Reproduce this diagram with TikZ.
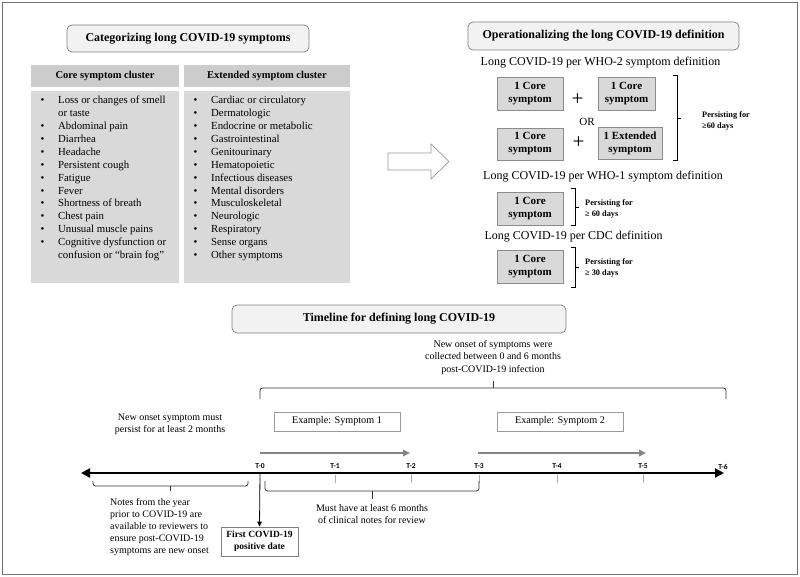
\documentclass[tikz,border=0pt]{standalone}
\usepackage{fontspec}
\setmainfont{Liberation Serif}
\newfontfamily\tickfont{Carlito}
\usetikzlibrary{arrows.meta}
\definecolor{tbfill}{HTML}{F2F2F2}
\definecolor{tbdraw}{HTML}{7F7F7F}
\definecolor{hdrfill}{HTML}{CCCCCC}
\definecolor{bodyfill}{HTML}{D9D9D9}
\definecolor{defdraw}{HTML}{8C8C8C}
\definecolor{tickblue}{HTML}{8DB3E2}
\definecolor{garrow}{HTML}{858585}
\begin{document}
\begin{tikzpicture}[x=1pt,y=-1pt,
  titlebox/.style={draw=tbdraw,fill=tbfill,rounded corners=5pt,line width=0.7pt,inner sep=0pt,font=\fontsize{12}{14}\selectfont\bfseries},
  hdrbox/.style={fill=hdrfill,inner sep=0pt,minimum height=22pt,font=\fontsize{10.5}{12}\selectfont\bfseries},
  bodybox/.style={fill=bodyfill,inner sep=0pt},
  listtext/.style={inner sep=0pt,anchor=base west,font=\fontsize{10.8}{12.9}\selectfont},
  defbox/.style={draw=defdraw,fill=bodyfill,line width=0.7pt,inner sep=0pt,minimum height=33pt,align=center,font=\fontsize{11}{13}\selectfont\bfseries},
  deftitle/.style={inner sep=0pt,font=\fontsize{12}{14}\selectfont},
  persist/.style={inner sep=0pt,anchor=west,align=left,font=\fontsize{8.3}{11}\selectfont\bfseries},
  brk/.style={draw=black,line width=0.7pt},
  brace/.style={draw=black!80,line width=0.8pt,rounded corners=2.5pt},
  tltext/.style={inner sep=0pt,align=center,font=\fontsize{10}{12.2}\selectfont},
  exbox/.style={draw=tbdraw!80,fill=white,line width=0.7pt,inner sep=0pt,minimum width=126pt,minimum height=19pt,font=\fontsize{10.2}{11}\selectfont},
  tlabel/.style={inner sep=0pt,font=\tickfont\fontsize{7.5}{9}\selectfont\bfseries},
  bluetick/.style={draw=tickblue,line width=0.8pt},
  grayarrow/.style={draw=garrow,line width=2.5pt,-{Triangle[length=7pt,width=6.5pt]}},
]
\useasboundingbox (0,0) rectangle (800,577);
\draw[draw=black!55,line width=0.8pt] (2,2) rectangle (797,574);

% ---------- left panel ----------
\node[titlebox,minimum width=242pt,minimum height=27pt] (t1) at (188,38.5) {Categorizing long COVID-19 symptoms};
\node[hdrbox,minimum width=148pt] (hc) at (105,76) {Core symptom cluster};
\node[hdrbox,minimum width=166pt] (he) at (267,76) {Extended symptom cluster};
\node[bodybox,minimum width=148pt,minimum height=192pt] (bc) at (105,187) {};
\node[bodybox,minimum width=166pt,minimum height=192pt] (be) at (267,187) {};

\node[listtext] (lc) at (40.3,103.8) {\begin{tabular}[t]{@{}p{17.7pt}@{}l@{}}
\textbullet & Loss or changes of smell\\
 & or taste\\
\textbullet & Abdominal pain\\
\textbullet & Diarrhea\\
\textbullet & Headache\\
\textbullet & Persistent cough\\
\textbullet & Fatigue\\
\textbullet & Fever\\
\textbullet & Shortness of breath\\
\textbullet & Chest pain\\
\textbullet & Unusual muscle pains\\
\textbullet & Cognitive dysfunction or\\
 & confusion or “brain fog”
\end{tabular}};
\node[listtext] (le) at (193.3,103.8) {\begin{tabular}[t]{@{}p{17.7pt}@{}l@{}}
\textbullet & Cardiac or circulatory\\
\textbullet & Dermatologic\\
\textbullet & Endocrine or metabolic\\
\textbullet & Gastrointestinal\\
\textbullet & Genitourinary\\
\textbullet & Hematopoietic\\
\textbullet & Infectious diseases\\
\textbullet & Mental disorders\\
\textbullet & Musculoskeletal\\
\textbullet & Neurologic\\
\textbullet & Respiratory\\
\textbullet & Sense organs\\
\textbullet & Other symptoms
\end{tabular}};

% ---------- block arrow ----------
\draw[draw=black!40,fill=white,line width=0.7pt] (388,153) -- (431,153) -- (431,144) -- (449,161.5) -- (431,179) -- (431,170) -- (388,170) -- cycle;

% ---------- right panel ----------
\node[titlebox,minimum width=271pt,minimum height=28pt] (t2) at (603.5,36) {Operationalizing the long COVID-19 definition};
\node[deftitle] (w2) at (600.5,63) {Long COVID-19 per WHO-2 symptom definition};
\node[defbox,minimum width=66pt] (b1) at (530,93.5) {1 Core\\symptom};
\node[defbox,minimum width=57pt] (b2) at (626.5,93.5) {1 Core\\symptom};
\node[defbox,minimum width=66pt,minimum height=32pt] (b3) at (530,144) {1 Core\\symptom};
\node[defbox,minimum width=64pt,minimum height=32pt] (b4) at (630,143) {1 Extended\\symptom};
\node[inner sep=0pt,font=\fontsize{21}{21}\selectfont] (p1) at (577.5,100) {+};
\node[inner sep=0pt,font=\fontsize{21}{21}\selectfont] (p2) at (578.5,143) {+};
\node[inner sep=0pt,font=\fontsize{11}{13}\selectfont] (or) at (587,122) {OR};
\draw[brk] (673,75) -- (677,75) -- (677,160) -- (673,160);
\draw[brk] (677,118) -- (681,118);
\node[persist] (pe1) at (702,121) {Persisting for\\≥60 days};

\node[deftitle] (w1) at (603,177) {Long COVID-19 per WHO-1 symptom definition};
\node[defbox,minimum width=66pt] (b5) at (530,208.5) {1 Core\\symptom};
\draw[brk] (571,188) -- (575,188) -- (575,225) -- (571,225);
\draw[brk] (575,207) -- (579,207);
\node[persist] (pe2) at (585,209) {Persisting for\\≥ 60 days};

\node[deftitle] (cd) at (573.5,237) {Long COVID-19 per CDC definition};
\node[defbox,minimum width=66pt] (b6) at (530,266.5) {1 Core\\symptom};
\draw[brk] (571,247) -- (575,247) -- (575,287) -- (571,287);
\draw[brk] (575,267) -- (579,267);
\node[persist] (pe3) at (585,268) {Persisting for\\≥ 30 days};

% ---------- timeline ----------
\node[titlebox,minimum width=334pt,minimum height=28pt] (t3) at (399,319) {Timeline for defining long COVID-19};
\node[tltext] (nos) at (493,357.5) {New onset of symptoms were\\collected between 0 and 6 months\\post-COVID-19 infection};
\draw[brace] (260,399) -- (260,388) -- (726,388) -- (726,399);
\draw[draw=black!80,line width=0.8pt] (493,388) -- (493,381);

\node[tltext] (nom) at (170,424) {New onset symptom must\\persist for at least 2 months};
\node[exbox] (ex1) at (337,421.5) {Example: Symptom 1};
\node[exbox] (ex2) at (560,421.5) {Example: Symptom 2};

\coordinate (a1s) at (260,453); \coordinate (a1e) at (410,453);
\coordinate (a2s) at (478,453); \coordinate (a2e) at (646,453);
\draw[grayarrow] (a1s) -- (a1e);
\draw[grayarrow] (a2s) -- (a2e);

\coordinate (L) at (81,473); \coordinate (R) at (724,473);
\draw[line width=2.6pt,{Triangle[length=9pt,width=9pt]}-{Triangle[length=9pt,width=9pt]}] (L) -- (R);

\foreach \n/\x in {0/260,1/335,2/411,3/479,4/557,5/643,6/723}{
  \coordinate (T\n) at (\x,473);
  \node[tlabel] (lab\n) at (\x,466.5) {T-\n};
}
\foreach \n in {1,2,3,4,5}{
  \draw[bluetick] ([yshift=-1.5pt]T\n) -- ([yshift=-10pt]T\n);
}

\node[draw=tbdraw,fill=white,line width=0.7pt,inner sep=0pt,minimum width=77pt,minimum height=29pt,align=center,font=\fontsize{9.5}{12}\selectfont\bfseries] (fc) at (259.5,541.5) {First COVID-19\\positive date};
\draw[line width=0.8pt,-{Triangle[length=5pt,width=4.5pt]}] (T0) -- (fc.north);

\draw[brace] (93,481) -- (93,486) -- (248,486) -- (248,481);
\draw[draw=black!80,line width=0.8pt] (170,486) -- (170,491);
\node[tltext,align=left,anchor=west] (notes) at (110,527) {Notes from the year\\prior to COVID-19 are\\available to reviewers to\\ensure post-COVID-19\\symptoms are new onset};

\draw[brace] (265,481) -- (265,491) -- (479,491) -- (479,481);
\draw[draw=black!80,line width=0.8pt] (372,491) -- (372,499);
\node[tltext] (must) at (372,514) {Must have at least 6 months\\of clinical notes for review};
\end{tikzpicture}
\end{document}
